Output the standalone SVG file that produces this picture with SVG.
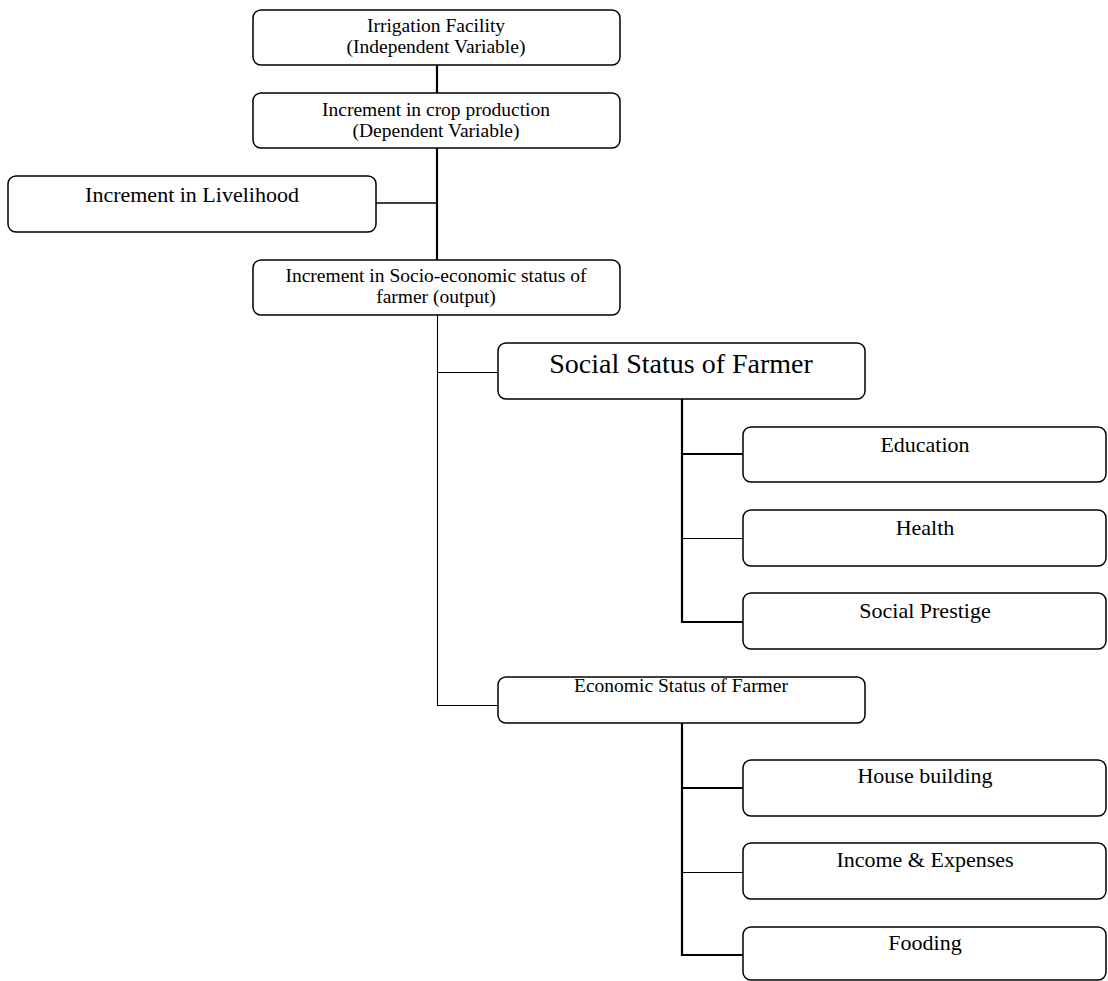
<svg xmlns="http://www.w3.org/2000/svg" width="1108" height="981" viewBox="0 0 1108 981">
<style>
.box{fill:#fff;stroke:#000;stroke-width:1.5}
text{font-family:"Liberation Serif","Times New Roman",serif;fill:#000;text-anchor:middle}
.t20{font-size:19.5px}
.t22{font-size:22px}
.t28{font-size:28px}
.thick{stroke:#000;stroke-width:2.2;fill:none}
.mid{stroke:#000;stroke-width:1.5;fill:none}
.thin{stroke:#000;stroke-width:1.1;fill:none}
</style>
<rect width="1108" height="981" fill="#fff"/>
<g id="connectors">
<line class="thick" x1="437" y1="65" x2="437" y2="93"/>
<line class="thick" x1="437" y1="148" x2="437" y2="260"/>
<line class="mid" x1="376" y1="203" x2="437" y2="203"/>
<polyline class="thin" points="437.5,315 437.5,705.5 498,705.5"/>
<line class="thin" x1="437.5" y1="372.5" x2="498" y2="372.5"/>
<polyline class="thick" points="682,399 682,622 743,622"/>
<line class="thick" x1="682" y1="454" x2="743" y2="454"/>
<line class="thin" x1="682" y1="538.5" x2="743" y2="538.5"/>
<polyline class="thick" points="682,723 682,955 743,955"/>
<line class="thick" x1="682" y1="788" x2="743" y2="788"/>
<line class="thin" x1="682" y1="872.5" x2="743" y2="872.5"/>
</g>
<g id="irrigation">
<rect class="box" x="253" y="10" width="367" height="55" rx="8"/>
<text class="t20" x="436" y="32">Irrigation Facility</text>
<text class="t20" x="436" y="53">(Independent Variable)</text>
</g>
<g id="crop">
<rect class="box" x="253" y="93" width="367" height="55" rx="8"/>
<text class="t20" x="436" y="116">Increment in crop production</text>
<text class="t20" x="436" y="137">(Dependent Variable)</text>
</g>
<g id="livelihood">
<rect class="box" x="8" y="176" width="368" height="56" rx="8"/>
<text class="t22" x="192" y="202">Increment in Livelihood</text>
</g>
<g id="socio">
<rect class="box" x="253" y="260" width="367" height="55" rx="8"/>
<text class="t20" x="436" y="282">Increment in Socio-economic status of</text>
<text class="t20" x="436" y="303">farmer (output)</text>
</g>
<g id="social">
<rect class="box" x="498" y="343" width="367" height="56" rx="8"/>
<text class="t28" x="681" y="373">Social Status of Farmer</text>
</g>
<g id="education">
<rect class="box" x="743" y="427" width="363" height="55" rx="8"/>
<text class="t22" x="925" y="452">Education</text>
</g>
<g id="health">
<rect class="box" x="743" y="510" width="363" height="56" rx="8"/>
<text class="t22" x="925" y="535">Health</text>
</g>
<g id="prestige">
<rect class="box" x="743" y="593" width="363" height="56" rx="8"/>
<text class="t22" x="925" y="618">Social Prestige</text>
</g>
<g id="economic">
<rect class="box" x="498" y="677" width="367" height="46" rx="8"/>
<text class="t20" x="681" y="692">Economic Status of Farmer</text>
</g>
<g id="house">
<rect class="box" x="743" y="760" width="363" height="56" rx="8"/>
<text class="t22" x="925" y="783">House building</text>
</g>
<g id="income">
<rect class="box" x="743" y="843" width="363" height="56" rx="8"/>
<text class="t22" x="925" y="867">Income &amp; Expenses</text>
</g>
<g id="fooding">
<rect class="box" x="743" y="927" width="363" height="53" rx="8"/>
<text class="t22" x="925" y="950">Fooding</text>
</g>
</svg>
